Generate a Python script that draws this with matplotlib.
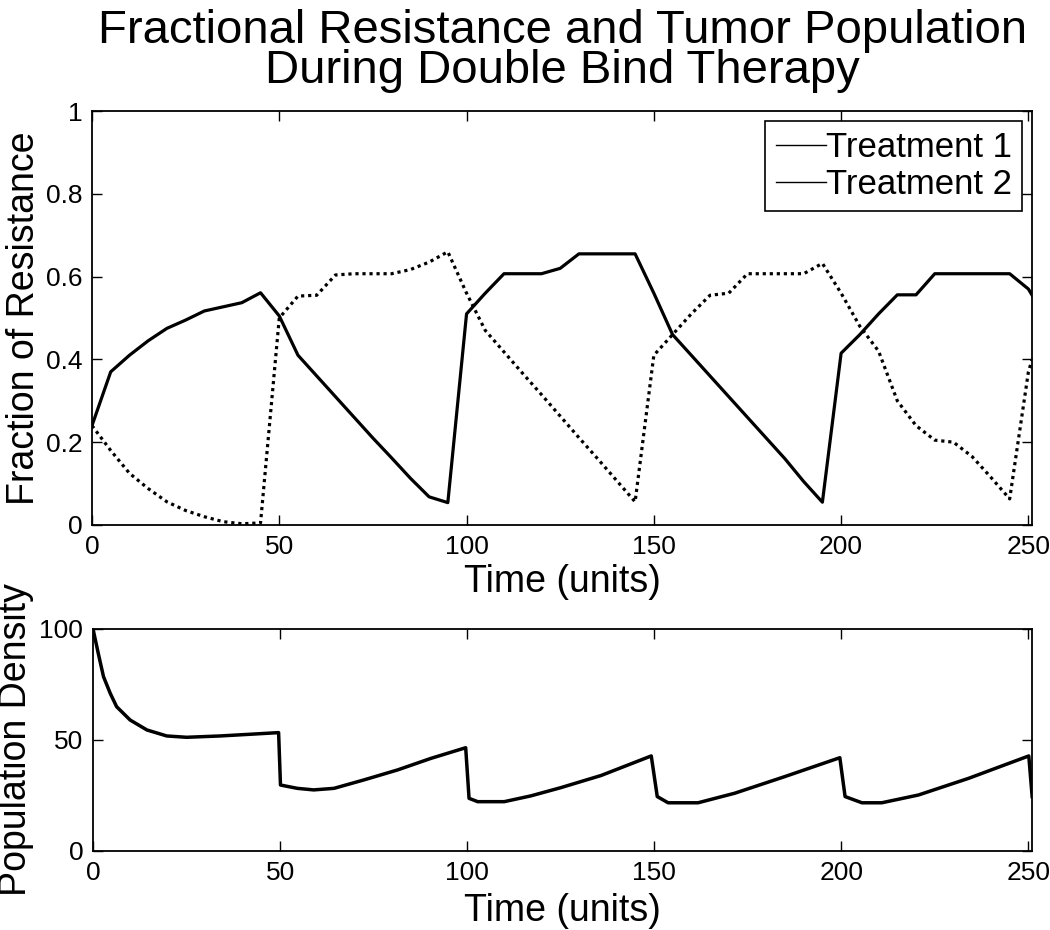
import numpy as np
import matplotlib
matplotlib.use("Agg")
import matplotlib.pyplot as plt
from matplotlib.lines import Line2D

plt.rcParams['font.family'] = ['Liberation Sans', 'DejaVu Sans']

# ---------------- data ----------------
# fraction of resistance, sampled every 5 time units (last point at 251)
t_res = [0, 5, 10, 15, 20, 25, 30, 35, 40, 45,
         50, 55, 60, 65, 70, 75, 80, 85, 90, 95,
         100, 105, 110, 115, 120, 125, 130, 135, 140, 145,
         150, 155, 160, 165, 170, 175, 180, 185, 190, 195,
         200, 205, 210, 215, 220, 225, 230, 235, 240, 245,
         250, 251]
treat1 = [0.24, 0.37, 0.41, 0.445, 0.475, 0.495, 0.517, 0.527, 0.537, 0.561,
          0.505, 0.41, 0.36, 0.31, 0.26, 0.21, 0.162, 0.113, 0.068, 0.054,
          0.51, 0.56, 0.607, 0.607, 0.607, 0.62, 0.655, 0.655, 0.655, 0.655,
          0.56, 0.46, 0.41, 0.36, 0.31, 0.26, 0.21, 0.16, 0.105, 0.055,
          0.415, 0.46, 0.51, 0.556, 0.556, 0.607, 0.607, 0.607, 0.607, 0.607,
          0.57, 0.555]
treat2 = [0.24, 0.18, 0.125, 0.088, 0.056, 0.035, 0.02, 0.008, 0.003, 0.005,
          0.50, 0.553, 0.555, 0.604, 0.607, 0.607, 0.607, 0.617, 0.635, 0.66,
          0.56, 0.47, 0.418, 0.366, 0.315, 0.263, 0.211, 0.16, 0.108, 0.056,
          0.41, 0.46, 0.51, 0.555, 0.56, 0.607, 0.607, 0.607, 0.607, 0.632,
          0.56, 0.48, 0.42, 0.30, 0.24, 0.205, 0.20, 0.165, 0.115, 0.063,
          0.37, 0.40]

# tumor population density
t_pop = [0, 1.4, 2.8, 4.6, 6.3, 9.9, 14.4, 19.7, 25, 34, 49.6,
         50.1, 54.6, 59, 64.4, 72.4, 81.4, 90.3, 99.6,
         100.5, 102.8, 109.9, 117, 125, 135.8, 149.2,
         150.8, 153.7, 161.7, 171.5, 184.9, 199.6,
         201, 205.5, 210.8, 220.6, 234, 250.1, 251]
pop = [100, 89, 78.5, 71, 65, 59, 54.5, 51.8, 51.2, 51.8, 53.3,
       29.7, 28.2, 27.5, 28.2, 32, 36.5, 41.7, 46.5,
       23.7, 22.2, 22.2, 24.8, 28.5, 34, 42.8,
       24.5, 21.7, 21.7, 26, 33.5, 42,
       24.5, 21.7, 21.7, 25.2, 32.7, 42.8, 24.5]

xticks = [0, 50, 100, 150, 200, 250]

# ---------------- figure ----------------
fig = plt.figure(figsize=(10.5, 9.3), dpi=100)
ax1 = fig.add_axes([0.0876, 0.4355, 0.8954, 0.4451])
ax2 = fig.add_axes([0.0886, 0.085, 0.8944, 0.2387])

ax1.plot(t_res, treat1, color='k', lw=2.3)
ax1.plot(t_res, treat2, color='k', lw=2.3, linestyle=(0, (1, 1.2)))
ax1.set_xlim(0, 251)
ax1.set_ylim(0, 1)
ax1.set_yticks([0, 0.2, 0.4, 0.6, 0.8, 1])
ax1.set_yticklabels(['0', '0.2', '0.4', '0.6', '0.8', '1'])
ax1.set_xlabel('Time (units)', fontsize=27, labelpad=4)
ax1.set_ylabel('Fraction of Resistance', fontsize=27)
ax1.yaxis.set_label_coords(-0.053, 0.5)
ax1.set_title('Fractional Resistance and Tumor Population\nDuring Double Bind Therapy',
              fontsize=34, linespacing=0.9, pad=20)

handles = [Line2D([], [], color='k', lw=1), Line2D([], [], color='k', lw=1)]
leg = ax1.legend(handles, ['Treatment 1', 'Treatment 2'], loc='upper right',
                 fontsize=25, frameon=True, fancybox=False, framealpha=1,
                 edgecolor='k', handlelength=1.45, handletextpad=0.0,
                 labelspacing=0.1, borderpad=0.3, borderaxespad=0.28)
leg.get_frame().set_linewidth(1.2)

ax2.plot(t_pop, pop, color='k', lw=2.5)
ax2.set_xlim(0, 251)
ax2.set_ylim(0, 100)
ax2.set_yticks([0, 50, 100])
ax2.set_xlabel('Time (units)', fontsize=27, labelpad=6)
ax2.set_ylabel('Population Density', fontsize=27)
ax2.yaxis.set_label_coords(-0.063, 0.5)

for ax in (ax1, ax2):
    ax.set_xticks(xticks)
    ax.tick_params(direction='in', top=True, right=True, length=7, width=1,
                   labelsize=19, pad=7)
    for s in ax.spines.values():
        s.set_linewidth(1.3)

fig.savefig('out.png', dpi=100)
